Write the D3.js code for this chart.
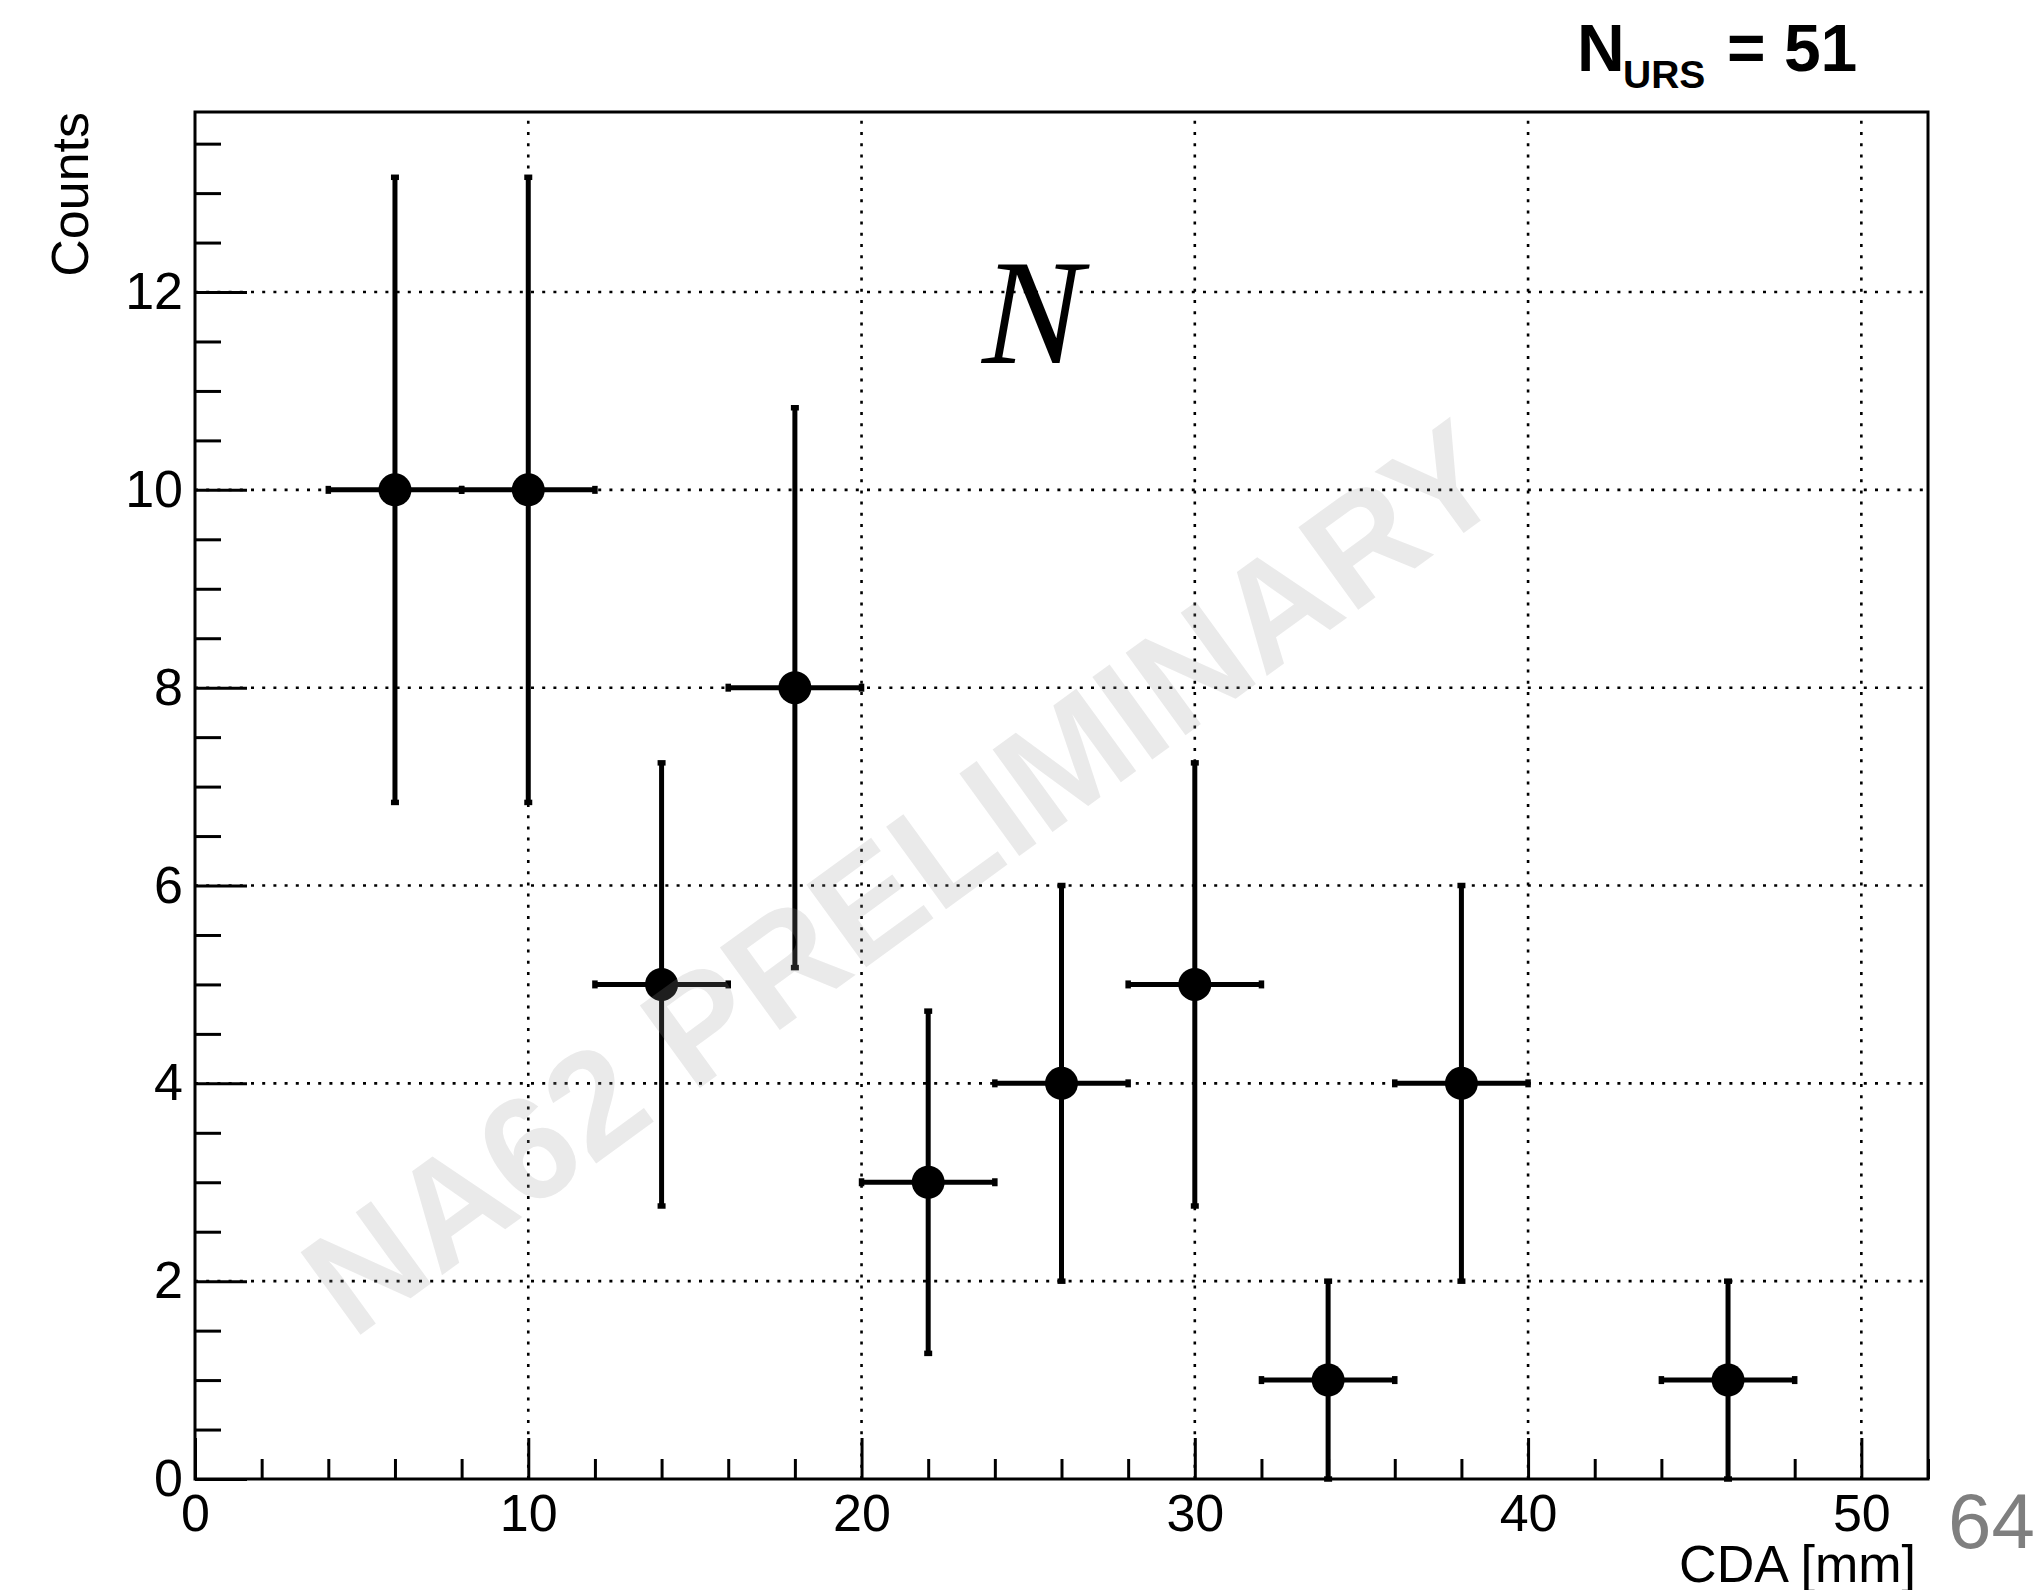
<!DOCTYPE html>
<html>
<head>
<meta charset="utf-8">
<script src="https://cdn.jsdelivr.net/npm/d3@7"></script>
<style>
  html, body { margin: 0; padding: 0; background: #fff; }
  svg { display: block; }
  text { font-family: "Liberation Sans", Arial, Helvetica, sans-serif; }
</style>
</head>
<body>
<script>
// ---- data ----
const binCenters = [6, 10, 14, 18, 22, 26, 30, 34, 38, 46];
const counts     = [10, 10, 5, 8, 3, 4, 5, 1, 4, 1];
const errCounts  = [3.16, 3.16, 2.24, 2.83, 1.73, 2, 2.24, 1, 2, 1];
const binHalfWidths = [2, 2, 2, 2, 2, 2, 2, 2, 2, 2];
const xMajorTicks = [0, 10, 20, 30, 40, 50];
const xMinorTicks = [2, 4, 6, 8, 12, 14, 16, 18, 22, 24, 26, 28, 32, 34, 36, 38, 42, 44, 46, 48, 52];
const yMajorTicks = [0, 2, 4, 6, 8, 10, 12];
const yMinorTicks = [0.5, 1, 1.5, 2.5, 3, 3.5, 4.5, 5, 5.5, 6.5, 7, 7.5, 8.5, 9, 9.5, 10.5, 11, 11.5, 12.5, 13, 13.5];
const xDomain = [0, 52];
const yDomain = [0, 13.82];
const xTitle = "CDA [mm]";
const yTitle = "Counts";

// ---- layout ----
const W = 2040, H = 1590;
const frame = { left: 195, right: 1928, top: 112, bottom: 1479 };

const svg = d3.select("body").append("svg").attr("width", W).attr("height", H);

const x = d3.scaleLinear().domain(xDomain).range([frame.left, frame.right]);
const y = d3.scaleLinear().domain(yDomain).range([frame.bottom, frame.top]);

const pw = frame.right - frame.left, ph = frame.bottom - frame.top;

// grid
const grid = svg.append("g").attr("stroke", "#000").attr("stroke-width", 2.6).attr("stroke-dasharray", "3,8.2");
grid.selectAll("line.gx").data(xMajorTicks.filter(d => d > 0)).enter().append("line")
  .attr("x1", d => x(d)).attr("x2", d => x(d)).attr("y1", frame.bottom).attr("y2", frame.top);
grid.selectAll("line.gy").data(yMajorTicks.filter(d => d > 0)).enter().append("line")
  .attr("y1", d => y(d)).attr("y2", d => y(d)).attr("x1", frame.left).attr("x2", frame.right);

// axes
const fontSize = 52;
const xAxis = d3.axisBottom(x).tickValues(xMajorTicks).tickSize(-41).tickPadding(15).tickFormat(d3.format("d"));
const xAxisMinor = d3.axisBottom(x).tickValues(xMinorTicks).tickSize(-20).tickFormat("");
const yAxis = d3.axisLeft(y).tickValues(yMajorTicks).tickSize(-52).tickPadding(12).tickFormat(d3.format("d"));
const yAxisMinor = d3.axisLeft(y).tickValues(yMinorTicks).tickSize(-26).tickFormat("");

function styleAxis(g) {
  g.select(".domain").remove();
  g.selectAll(".tick line").attr("stroke", "#000").attr("stroke-width", 3);
  g.selectAll(".tick text").attr("fill", "#000").attr("font-size", fontSize)
    .attr("font-family", "'Liberation Sans', Arial, Helvetica, sans-serif");
}
svg.append("g").attr("transform", `translate(0,${frame.bottom})`).call(xAxis).call(styleAxis);
svg.append("g").attr("transform", `translate(0,${frame.bottom})`).call(xAxisMinor).call(styleAxis);
svg.append("g").attr("transform", `translate(${frame.left},0)`).call(yAxis).call(styleAxis);
svg.append("g").attr("transform", `translate(${frame.left},0)`).call(yAxisMinor).call(styleAxis);

// frame
svg.append("rect").attr("x", frame.left).attr("y", frame.top).attr("width", pw).attr("height", ph)
  .attr("fill", "none").attr("stroke", "#000").attr("stroke-width", 3);

// data points with error bars
const pts = binCenters.map((c, i) => ({ x: c, y: counts[i], ey: errCounts[i], ex: binHalfWidths[i] }));
const eb = svg.append("g").attr("stroke", "#000").attr("stroke-width", 5);
const cap = 4;
pts.forEach(p => {
  const cx = x(p.x), cy = y(p.y);
  const x0 = x(p.x - p.ex), x1 = x(p.x + p.ex);
  const y0 = y(Math.max(0, p.y - p.ey)), y1 = y(p.y + p.ey);
  eb.append("line").attr("x1", x0).attr("x2", x1).attr("y1", cy).attr("y2", cy);
  eb.append("line").attr("x1", cx).attr("x2", cx).attr("y1", y0).attr("y2", y1);
  // end caps
  eb.append("line").attr("x1", x0).attr("x2", x0).attr("y1", cy - cap).attr("y2", cy + cap).attr("stroke-width", 5.5);
  eb.append("line").attr("x1", x1).attr("x2", x1).attr("y1", cy - cap).attr("y2", cy + cap).attr("stroke-width", 5.5);
  eb.append("line").attr("y1", y0).attr("y2", y0).attr("x1", cx - cap).attr("x2", cx + cap).attr("stroke-width", 5.5);
  eb.append("line").attr("y1", y1).attr("y2", y1).attr("x1", cx - cap).attr("x2", cx + cap).attr("stroke-width", 5.5);
});
svg.append("g").selectAll("circle").data(pts).enter().append("circle")
  .attr("cx", d => x(d.x)).attr("cy", d => y(d.y)).attr("r", 16.5).attr("fill", "#000");

// axis titles
svg.append("text").attr("x", 1916).attr("y", 1582).attr("text-anchor", "end")
  .attr("font-size", fontSize).attr("fill", "#000").text(xTitle);
svg.append("text").attr("transform", "translate(88,112) rotate(-90)").attr("text-anchor", "end")
  .attr("font-size", fontSize).attr("fill", "#000").text(yTitle);

// N_URS label
const lab = svg.append("g").attr("font-weight", "bold").attr("fill", "#000");
lab.append("text").attr("x", 1577).attr("y", 71).attr("font-size", 66).text("N");
lab.append("text").attr("x", 1623).attr("y", 88).attr("font-size", 39).text("URS");
lab.append("text").attr("x", 1727).attr("y", 71).attr("font-size", 66).text("= 51");

// italic N
svg.append("text").attr("x", 982).attr("y", 363).attr("font-size", 151)
  .style("font-family", "'Liberation Serif', 'Times New Roman', serif").attr("font-style", "italic")
  .attr("fill", "#000").text("N");

// page number
svg.append("text").attr("x", 1948).attr("y", 1548).attr("font-size", 78).attr("fill", "#7f7f7f").text("64");

// watermark
svg.append("text").attr("transform", "translate(901,876) rotate(-36)")
  .attr("text-anchor", "middle").attr("dy", "0.36em")
  .attr("font-size", 148).attr("font-weight", "bold")
  .attr("fill", "rgb(150,150,150)").attr("fill-opacity", 0.2)
  .text("NA62 PRELIMINARY");
</script>
</body>
</html>
